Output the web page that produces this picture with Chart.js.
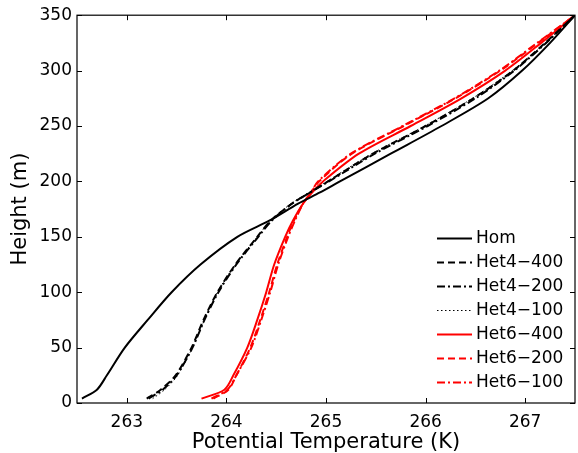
<!DOCTYPE html>
<html>
<head>
<meta charset="utf-8">
<script src="https://cdn.jsdelivr.net/npm/chart.js@4/dist/chart.umd.min.js"></script>
<style>
  body { margin: 0; background: #fff; }
</style>
</head>
<body>
<canvas id="myChart" width="578" height="453"></canvas>
<script>
// profile heights (m), shared by all runs
const heights = [4, 12, 25, 50, 75, 100, 125, 150, 165, 180, 190, 200, 225, 250, 275, 300, 325, 350];

// potential temperature (K) at each height
const hom = [262.55, 262.70, 262.80, 262.98, 263.21, 263.45, 263.74, 264.11, 264.44, 264.72, 264.94, 265.14, 265.65, 266.16, 266.63, 266.97, 267.25, 267.50];
const het4_400 = [263.20, 263.34, 263.49, 263.65, 263.77, 263.91, 264.09, 264.31, 264.45, 264.66, 264.84, 265.02, 265.47, 266.00, 266.48, 266.88, 267.20, 267.50];
const het4_200 = [263.22, 263.36, 263.50, 263.66, 263.78, 263.92, 264.10, 264.32, 264.46, 264.66, 264.84, 265.03, 265.49, 266.02, 266.50, 266.89, 267.21, 267.50];
const het4_100 = [263.26, 263.38, 263.51, 263.66, 263.78, 263.91, 264.09, 264.31, 264.45, 264.65, 264.83, 265.01, 265.46, 265.99, 266.47, 266.87, 267.20, 267.50];
const het6_400 = [263.75, 263.98, 264.07, 264.21, 264.31, 264.40, 264.48, 264.59, 264.67, 264.77, 264.86, 264.97, 265.33, 265.85, 266.36, 266.80, 267.16, 267.50];
const het6_200 = [263.87, 264.02, 264.10, 264.24, 264.34, 264.43, 264.51, 264.61, 264.68, 264.77, 264.85, 264.93, 265.26, 265.78, 266.30, 266.75, 267.13, 267.50];
const het6_100 = [263.85, 264.01, 264.10, 264.25, 264.35, 264.44, 264.52, 264.62, 264.69, 264.77, 264.85, 264.92, 265.25, 265.77, 266.29, 266.74, 267.12, 267.50];

const seriesNames = ["Hom", "Het4\u2212400", "Het4\u2212200", "Het4\u2212100", "Het6\u2212400", "Het6\u2212200", "Het6\u2212100"];
const seriesValues = [hom, het4_400, het4_200, het4_100, het6_400, het6_200, het6_100];

const xTicks = [263, 264, 265, 266, 267];
const yTicks = [0, 50, 100, 150, 200, 250, 300, 350];

const FONT = "'DejaVu Sans', sans-serif";

// line look for each run
const styles = [
  { color: "#000", dash: [], width: 2 },
  { color: "#000", dash: [7, 4], width: 2 },
  { color: "#000", dash: [8, 3, 2, 3], width: 2 },
  { color: "#000", dash: [1.5, 2.5], width: 1 },
  { color: "#ff0000", dash: [], width: 2 },
  { color: "#ff0000", dash: [7, 4], width: 2 },
  { color: "#ff0000", dash: [8, 3, 2, 3], width: 2 },
];

function toPoints(temps) {
  return heights.map((h, i) => ({ x: temps[i], y: h }));
}

const datasets = seriesNames.map((name, i) => ({
  label: name,
  data: toPoints(seriesValues[i]),
  borderColor: styles[i].color,
  borderDash: styles[i].dash,
  borderWidth: styles[i].width,
  pointRadius: 0,
  fill: false,
  tension: 0.3,
}));

// box, inward ticks on all sides, and the legend
const framePlugin = {
  id: "frame",
  afterDraw(chart) {
    const ctx = chart.ctx;
    const a = chart.chartArea;
    const xs = chart.scales.x;
    const ys = chart.scales.y;
    ctx.save();
    ctx.strokeStyle = "#000";
    ctx.lineWidth = 1.2;
    ctx.setLineDash([]);
    ctx.strokeRect(a.left, a.top, a.right - a.left, a.bottom - a.top);
    ctx.lineWidth = 1;
    ctx.beginPath();
    xTicks.forEach((v) => {
      let px = Math.round(xs.getPixelForValue(v)) + 0.5;
      ctx.moveTo(px, a.bottom);
      ctx.lineTo(px, a.bottom - 5);
      ctx.moveTo(px, a.top);
      ctx.lineTo(px, a.top + 5);
    });
    yTicks.forEach((v) => {
      let py = Math.round(ys.getPixelForValue(v)) + 0.5;
      ctx.moveTo(a.left, py);
      ctx.lineTo(a.left + 5, py);
      ctx.moveTo(a.right, py);
      ctx.lineTo(a.right - 5, py);
    });
    ctx.stroke();

    // legend
    ctx.font = "17px " + FONT;
    ctx.textBaseline = "middle";
    ctx.textAlign = "left";
    chart.data.datasets.forEach((ds, i) => {
      let y = 238.5 + i * 24;
      ctx.strokeStyle = ds.borderColor;
      ctx.lineWidth = ds.borderWidth;
      ctx.setLineDash(ds.borderDash);
      ctx.beginPath();
      ctx.moveTo(437, y);
      ctx.lineTo(472, y);
      ctx.stroke();
      ctx.fillStyle = "#000";
      ctx.fillText(ds.label, 476, y);
    });
    ctx.restore();
  },
};

var ctx = document.getElementById("myChart").getContext("2d");

var myChart = new Chart(ctx, {
  type: "line",
  data: { datasets: datasets },
  options: {
    responsive: false,
    animation: false,
    layout: { padding: { top: 14, right: 3, left: 0, bottom: 0 } },
    plugins: {
      legend: { display: false },
      tooltip: { enabled: false },
    },
    scales: {
      x: {
        type: "linear",
        min: 262.5,
        max: 267.5,
        afterBuildTicks: (scale) => {
          scale.ticks = xTicks.map((v) => ({ value: v }));
        },
        afterFit: (scale) => {
          scale.height = 50;
        },
        grid: { drawOnChartArea: false, drawTicks: false, display: false },
        border: { display: false },
        ticks: {
          padding: 9,
          color: "#000",
          font: { family: FONT, size: 17 },
          maxRotation: 0,
          autoSkip: false,
        },
        title: {
          display: true,
          text: "Potential Temperature (K)",
          color: "#000",
          font: { family: FONT, size: 21 },
          padding: { top: 0, bottom: -2 },
        },
      },
      y: {
        type: "linear",
        min: 0,
        max: 350,
        afterBuildTicks: (scale) => {
          scale.ticks = yTicks.map((v) => ({ value: v }));
        },
        afterFit: (scale) => {
          scale.width = 77;
        },
        grid: { drawOnChartArea: false, drawTicks: false, display: false },
        border: { display: false },
        ticks: {
          padding: 5,
          color: "#000",
          font: { family: FONT, size: 17 },
          autoSkip: false,
        },
        title: {
          display: true,
          text: "Height (m)",
          color: "#000",
          font: { family: FONT, size: 21 },
          padding: { top: 8, bottom: 0 },
        },
      },
    },
  },
  plugins: [framePlugin],
});
</script>
</body>
</html>
